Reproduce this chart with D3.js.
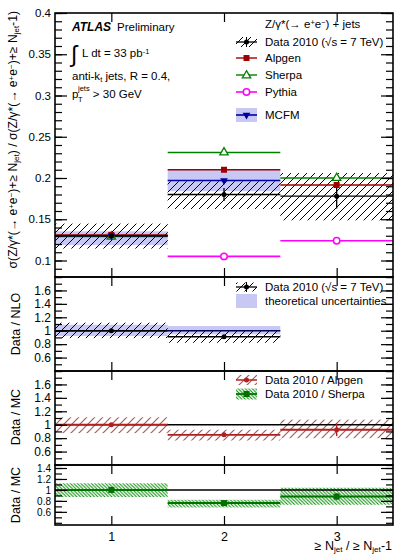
<!DOCTYPE html>
<html>
<head>
<meta charset="utf-8">
<script src="https://cdn.jsdelivr.net/npm/d3@7"></script>
<style>
  body { margin: 0; background: #fff; }
  text { font-family: "Liberation Sans", Arial, Helvetica, sans-serif; fill: #000; }
</style>
</head>
<body>
<script>
// bins of the ratio >= N / >= N-1
const bins = [1, 2, 3];

// top panel: cross-section ratio
const dataVal = [0.130, 0.180, 0.178];
const dataStat = [0.002, 0.008, 0.015];
const dataSystLow = [0.1145, 0.1625, 0.1487];
const dataSystHigh = [0.1447, 0.1960, 0.2060];
const alpgenVal = [0.131, 0.210, 0.1915];
const sherpaVal = [0.129, 0.231, 0.200];
const pythiaVal = [null, 0.105, 0.124];
const mcfmVal = [0.130, 0.197, null];
const mcfmLow = [0.1186, 0.184, null];
const mcfmHigh = [0.1354, 0.210, null];

// data / NLO
const nloRatio = [1.0, 0.91, null];
const nloStat = [0.01, 0.01, null];
const nloSystLow = [0.89, 0.82, null];
const nloSystHigh = [1.12, 1.01, null];
const nloBandLow = [0.92, 0.945, null];
const nloBandHigh = [1.09, 1.07, null];

// data / Alpgen
const alpRatio = [1.0, 0.85, 0.925];
const alpStat = [0.01, 0.03, 0.095];
const alpSystLow = [0.875, 0.765, 0.80];
const alpSystHigh = [1.11, 0.925, 1.075];

// data / Sherpa
const sheRatio = [1.0, 0.76, 0.88];
const sheStat = [0.01, 0.02, 0.06];
const sheSystLow = [0.87, 0.68, 0.73];
const sheSystHigh = [1.12, 0.82, 1.04];

const W = 394, H = 554;
const left = 55, right = 393;

const svg = d3.select('body').append('svg')
  .attr('width', W).attr('height', H)
  .attr('xmlns', 'http://www.w3.org/2000/svg');
svg.append('rect').attr('width', W).attr('height', H).attr('fill', '#fff');

const defs = svg.append('defs');
function hatch(id, color, spacing, dir, width) {
  const p = defs.append('pattern').attr('id', id)
    .attr('patternUnits', 'userSpaceOnUse')
    .attr('width', spacing).attr('height', spacing);
  if (dir > 0) {
    p.append('path').attr('d', `M0,${spacing} L${spacing},0 M-1,1 L1,-1 M${spacing - 1},${spacing + 1} L${spacing + 1},${spacing - 1}`);
  } else {
    p.append('path').attr('d', `M0,0 L${spacing},${spacing} M-1,${spacing - 1} L1,${spacing + 1} M${spacing - 1},-1 L${spacing + 1},1`);
  }
  p.select('path').attr('stroke', color).attr('stroke-width', width).attr('fill', 'none');
}
hatch('hBlack', '#000', 8, 1, 1);
hatch('hRed', '#a85a5a', 8, 1, 1.2);
hatch('hGreen', '#008800', 3.5, -1, 1);

const x = d3.scaleLinear().domain([0.5, 3.5]).range([left, right]);

const panels = [
  {top: 13, bottom: 277, domain: [0.08, 0.4], major: d3.range(0.1, 0.401, 0.05), minor: d3.range(0.08, 0.401, 0.01), fmt: d3.format('~g'), fs: 11.5},
  {top: 277, bottom: 371, domain: [0.4, 1.8], major: [0.6, 0.8, 1, 1.2, 1.4, 1.6], minor: d3.range(0.4, 1.81, 0.1), fmt: d3.format('~g'), fs: 12},
  {top: 371, bottom: 465, domain: [0.4, 1.8], major: [0.6, 0.8, 1, 1.2, 1.4, 1.6], minor: d3.range(0.4, 1.81, 0.1), fmt: d3.format('~g'), fs: 12},
  {top: 465, bottom: 525, domain: [0.36, 1.455], major: [0.6, 0.8, 1, 1.2, 1.4], minor: d3.range(0.4, 1.45, 0.1), fmt: d3.format('~g'), fs: 10}
];
panels.forEach(p => { p.y = d3.scaleLinear().domain(p.domain).range([p.bottom, p.top]); });

function hseg(g, y, vals, color, w) {
  bins.forEach((b, i) => {
    if (vals[i] == null) return;
    g.append('line')
      .attr('x1', x(b - 0.5)).attr('x2', x(b + 0.5))
      .attr('y1', y(vals[i])).attr('y2', y(vals[i]))
      .attr('stroke', color).attr('stroke-width', w);
  });
}
function boxes(g, y, lo, hi, fill) {
  bins.forEach((b, i) => {
    if (lo[i] == null) return;
    g.append('rect')
      .attr('x', x(b - 0.5)).attr('width', x(b + 0.5) - x(b - 0.5))
      .attr('y', y(hi[i])).attr('height', y(lo[i]) - y(hi[i]))
      .attr('fill', fill);
  });
}
function errs(g, y, vals, e, color, w) {
  bins.forEach((b, i) => {
    if (vals[i] == null) return;
    g.append('line').attr('x1', x(b)).attr('x2', x(b))
      .attr('y1', y(vals[i] - e[i])).attr('y2', y(vals[i] + e[i]))
      .attr('stroke', color).attr('stroke-width', w);
  });
}
function markers(g, y, vals, kind, color) {
  bins.forEach((b, i) => {
    if (vals[i] == null) return;
    drawMarker(g, x(b), y(vals[i]), kind, color);
  });
}
function drawMarker(g, cx, cy, kind, color) {
  if (kind === 'dot') {
    g.append('circle').attr('cx', cx).attr('cy', cy).attr('r', 2.5).attr('fill', color);
  } else if (kind === 'square') {
    g.append('rect').attr('x', cx - 3).attr('y', cy - 3).attr('width', 6).attr('height', 6).attr('fill', color);
  } else if (kind === 'tri') {
    g.append('path').attr('d', d3.symbol(d3.symbolTriangle, 30)()).attr('transform', `translate(${cx},${cy})`)
      .attr('fill', '#fff').attr('stroke', color).attr('stroke-width', 1.3);
  } else if (kind === 'circ') {
    g.append('circle').attr('cx', cx).attr('cy', cy).attr('r', 3.2).attr('fill', '#fff').attr('stroke', color).attr('stroke-width', 1.5);
  } else if (kind === 'dtri') {
    g.append('path').attr('d', d3.symbol(d3.symbolTriangle, 26)()).attr('transform', `translate(${cx},${cy}) rotate(180)`)
      .attr('fill', color);
  }
}

const plots = panels.map(p => svg.append('g'));

// ---- top panel
{
  const g = plots[0], y = panels[0].y;
  boxes(g, y, mcfmLow, mcfmHigh, '#c8c8f5');
  boxes(g, y, dataSystLow, dataSystHigh, 'url(#hBlack)');
  hseg(g, y, pythiaVal, '#ff00ff', 1.6);
  hseg(g, y, sherpaVal, '#008000', 1.4);
  hseg(g, y, alpgenVal, '#a00000', 1.4);
  hseg(g, y, mcfmVal, '#0000a0', 1.6);
  hseg(g, y, dataVal, '#000', 1.4);
  errs(g, y, dataVal, dataStat, '#000', 1.3);
  markers(g, y, pythiaVal, 'circ', '#ff00ff');
  markers(g, y, sherpaVal, 'tri', '#008000');
  markers(g, y, alpgenVal, 'square', '#a00000');
  markers(g, y, mcfmVal, 'dtri', '#0000a0');
  markers(g, y, dataVal, 'dot', '#000');
}
// ---- data / NLO
{
  const g = plots[1], y = panels[1].y;
  boxes(g, y, nloBandLow, nloBandHigh, '#c8c8f5');
  boxes(g, y, nloSystLow, nloSystHigh, 'url(#hBlack)');
  hseg(g, y, [1, 1, null], '#000050', 1.4);
  hseg(g, y, nloRatio, '#000', 1.4);
  errs(g, y, nloRatio, nloStat, '#000', 1.3);
  markers(g, y, nloRatio, 'dot', '#000');
}
// ---- data / Alpgen
{
  const g = plots[2], y = panels[2].y;
  boxes(g, y, alpSystLow, alpSystHigh, 'url(#hRed)');
  g.append('line').attr('x1', left).attr('x2', right).attr('y1', y(1)).attr('y2', y(1)).attr('stroke', '#000').attr('stroke-width', 1.4);
  hseg(g, y, alpRatio, '#b02020', 1.8);
  errs(g, y, alpRatio, alpStat, '#b02020', 1.4);
  markers(g, y, alpRatio, 'dot', '#b02020');
}
// ---- data / Sherpa
{
  const g = plots[3], y = panels[3].y;
  boxes(g, y, sheSystLow, sheSystHigh, 'url(#hGreen)');
  g.append('line').attr('x1', left).attr('x2', right).attr('y1', y(1)).attr('y2', y(1)).attr('stroke', '#000').attr('stroke-width', 1.4);
  hseg(g, y, sheRatio, '#007000', 2);
  errs(g, y, sheRatio, sheStat, '#007000', 1.4);
  markers(g, y, sheRatio, 'square', '#007000');
}

// ---- axes and frames
panels.forEach((p, k) => {
  const g = svg.append('g');
  g.append('g').attr('transform', `translate(${left},0)`)
    .call(d3.axisLeft(p.y).tickValues(p.minor).tickSize(-7).tickFormat(''));
  g.append('g').attr('class', 'ylab').attr('transform', `translate(${left},0)`)
    .call(d3.axisLeft(p.y).tickValues(p.major).tickSize(-12).tickPadding(4).tickFormat(p.fmt));
  g.append('g').attr('transform', `translate(${right},0)`)
    .call(d3.axisRight(p.y).tickValues(p.minor).tickSize(-7).tickFormat(''));
  g.append('g').attr('transform', `translate(${right},0)`)
    .call(d3.axisRight(p.y).tickValues(p.major).tickSize(-12).tickFormat(''));
  g.append('g').attr('transform', `translate(0,${p.top})`)
    .call(d3.axisTop(x).tickValues(bins).tickSize(-9).tickFormat(''));
  const bot = g.append('g').attr('class', 'xlab').attr('transform', `translate(0,${p.bottom})`)
    .call(d3.axisBottom(x).tickValues(bins).tickSize(-9).tickFormat(k === 3 ? d3.format('d') : '').tickPadding(7));
  g.selectAll('.domain').remove();
  g.selectAll('.tick line').attr('stroke', '#000').attr('stroke-width', 1.2);
  g.selectAll('.ylab .tick text').attr('font-size', p.fs);
  bot.selectAll('.tick text').attr('font-size', 12.5);
  g.selectAll('.tick text').attr('font-family', '"Liberation Sans", Arial, sans-serif').attr('fill', '#000');
  g.append('rect').attr('x', left).attr('y', p.top).attr('width', right - left).attr('height', p.bottom - p.top)
    .attr('fill', 'none').attr('stroke', '#000').attr('stroke-width', 1.6);
});

// ---- axis titles
function supsub(t, parts, size) {
  parts.forEach(([txt, kind]) => {
    const s = t.append('tspan').text(txt);
    if (kind === 'sup') s.attr('baseline-shift', '40%').attr('font-size', size * 0.65);
    if (kind === 'sub') s.attr('baseline-shift', '-25%').attr('font-size', size * 0.65);
  });
}
{
  const t = svg.append('text').attr('transform', 'translate(17,11) rotate(-90)')
    .attr('text-anchor', 'end').attr('font-size', 12.2);
  supsub(t, [['σ(Z/γ*(→ e'], ['+', 'sup'], ['e'], ['−', 'sup'], [')+≥ N'], ['jet', 'sub'], [') / σ(Z/γ*(→ e'], ['+', 'sup'], ['e'], ['−', 'sup'], [')+≥ N'], ['jet', 'sub'], ['-1)']], 12.2);
}
[['Data / NLO', 324], ['Data / MC', 417], ['Data / MC', 495]].forEach(([s, cy]) => {
  svg.append('text').attr('transform', `translate(20,${cy}) rotate(-90)`).attr('text-anchor', 'middle')
    .attr('font-size', 12.5).text(s);
});
{
  const t = svg.append('text').attr('x', 392).attr('y', 550).attr('text-anchor', 'end').attr('font-size', 12.5);
  supsub(t, [['≥ N'], ['jet', 'sub'], [' / ≥ N'], ['jet', 'sub'], ['-1']], 12.5);
}

// ---- ATLAS label
{
  const fs = 11.5;
  svg.append('text').attr('x', 72).attr('y', 31).attr('font-size', 12).attr('font-weight', 'bold').attr('font-style', 'italic').text('ATLAS');
  svg.append('text').attr('x', 117).attr('y', 31).attr('font-size', fs).text('Preliminary');
  svg.append('text').attr('x', 71).attr('y', 62).attr('font-size', 23).attr('font-family', '"DejaVu Sans", sans-serif').text('∫');
  const t1 = svg.append('text').attr('x', 82).attr('y', 57).attr('font-size', fs);
  supsub(t1, [['L dt = 33 pb'], ['-1', 'sup']], fs);
  const t2 = svg.append('text').attr('x', 72).attr('y', 80).attr('font-size', fs);
  supsub(t2, [['anti-k'], ['t', 'sub'], [' jets, R = 0.4,']], fs);
  const t3 = svg.append('text').attr('x', 72).attr('y', 98).attr('font-size', fs);
  t3.append('tspan').text('p');
  t3.append('tspan').attr('dx', -0.5).attr('dy', 4).attr('font-size', 7.5).text('T');
  t3.append('tspan').attr('dx', -4.5).attr('dy', -11).attr('font-size', 7.5).text('jets');
  t3.append('tspan').attr('dy', 7).text(' > 30 GeV');
}

// ---- legends
const lx0 = 236, lx1 = 257, tx = 265, lfs = 11.5;
function legText(y, parts) {
  const t = svg.append('text').attr('x', tx).attr('y', y + 4).attr('font-size', lfs);
  supsub(t, parts, lfs);
}
function legLine(y, color, w) {
  svg.append('line').attr('x1', lx0).attr('x2', lx1).attr('y1', y).attr('y2', y).attr('stroke', color).attr('stroke-width', w);
}
function legBox(y, h, fill) {
  svg.append('rect').attr('x', lx0).attr('y', y - h / 2).attr('width', lx1 - lx0).attr('height', h).attr('fill', fill);
}
const mid = (lx0 + lx1) / 2;
{
  const t = svg.append('text').attr('x', tx).attr('y', 28).attr('font-size', lfs);
  supsub(t, [['Z/γ*(→ e'], ['+', 'sup'], ['e'], ['−', 'sup'], [') + jets']], lfs);
  // data
  legBox(42, 10, 'url(#hBlack)'); legLine(42, '#000', 1.3);
  svg.append('line').attr('x1', mid).attr('x2', mid).attr('y1', 37).attr('y2', 47).attr('stroke', '#000');
  drawMarker(svg, mid, 42, 'dot', '#000');
  legText(42, [['Data 2010 (√s = 7 TeV)']]);
  legLine(58, '#a00000', 1.4); drawMarker(svg, mid, 58, 'square', '#a00000'); legText(58, [['Alpgen']]);
  legLine(75, '#008000', 1.4); drawMarker(svg, mid, 75.5, 'tri', '#008000'); legText(75, [['Sherpa']]);
  legLine(92, '#ff00ff', 1.6); drawMarker(svg, mid, 92, 'circ', '#ff00ff'); legText(92, [['Pythia']]);
  legBox(115, 14, '#c8c8f5'); legLine(115, '#0000a0', 1.6); drawMarker(svg, mid, 115, 'dtri', '#0000a0'); legText(115, [['MCFM']]);

  legBox(287, 9, 'url(#hBlack)'); legLine(287, '#000', 1.3);
  svg.append('line').attr('x1', mid).attr('x2', mid).attr('y1', 282).attr('y2', 292).attr('stroke', '#000');
  drawMarker(svg, mid, 287, 'dot', '#000');
  legText(287, [['Data 2010 (√s = 7 TeV)']]);
  legBox(301, 14, '#c8c8f5'); legText(301, [['theoretical uncertainties']]);

  legBox(380, 10, 'url(#hRed)'); legLine(380, '#b02020', 1.5);
  drawMarker(svg, mid, 380, 'dot', '#b02020');
  legText(380, [['Data 2010 / Alpgen']]);
  legBox(394, 11, 'url(#hGreen)'); legLine(394, '#007000', 1.8);
  drawMarker(svg, mid, 394, 'square', '#007000');
  legText(394, [['Data 2010 / Sherpa']]);
}
</script>
</body>
</html>
